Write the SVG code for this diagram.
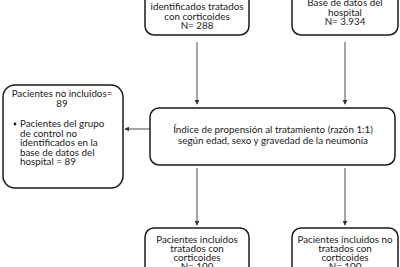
<svg xmlns="http://www.w3.org/2000/svg" width="400" height="267" viewBox="0 0 400 267">
<style>
.box{fill:#fff;stroke:#1a1a1a;stroke-width:1.5}
.t{font-family:Lato,"Open Sans",sans-serif;font-size:9.8px;fill:#1a1a1a;text-anchor:middle}
.l{text-anchor:start}
.c{stroke:#4d4d4d;stroke-width:1;fill:none;marker-end:url(#ah)}
</style>
<defs>
<marker id="ah" viewBox="0 0 8 8" refX="7" refY="4" markerWidth="5" markerHeight="5" orient="auto" markerUnits="userSpaceOnUse">
<path d="M0,0 L8,4 L0,8 Z" fill="#333"/>
</marker>
</defs>
<rect width="400" height="267" fill="#fff"/>
<g id="connectors">
<line class="c" x1="197" y1="42" x2="197" y2="104"/>
<line class="c" x1="345" y1="42" x2="345" y2="104"/>
<line class="c" x1="150" y1="129" x2="125" y2="129"/>
<line class="c" x1="197" y1="168" x2="197" y2="225"/>
<line class="c" x1="345" y1="168" x2="345" y2="225"/>
</g>
<g id="n-top-left">
<rect class="box" x="145" y="-15" width="104" height="50" rx="9"/>
<text class="t" x="197" y="9.5">identificados tratados</text>
<text class="t" x="197" y="19.5">con corticoides</text>
<text class="t" x="197" y="29">N= 288</text>
</g>
<g id="n-top-right">
<rect class="box" x="292" y="-15" width="106" height="50" rx="9"/>
<text class="t" x="345" y="5.5">Base de datos del</text>
<text class="t" x="345" y="15.5">hospital</text>
<text class="t" x="345" y="25">N= 3.934</text>
</g>
<g id="n-excluded">
<rect class="box" x="3" y="85" width="120" height="103" rx="12"/>
<text class="t" x="62" y="97">Pacientes no incluidos=</text>
<text class="t" x="62" y="107">89</text>
<circle cx="15" cy="124" r="1.4" fill="#1a1a1a"/>
<text class="t l" x="20" y="127">Pacientes del grupo</text>
<text class="t l" x="20" y="136.5">de control no</text>
<text class="t l" x="20" y="146">identificados en la</text>
<text class="t l" x="20" y="155.5">base de datos del</text>
<text class="t l" x="20" y="165">hospital = 89</text>
</g>
<g id="n-propensity">
<rect class="box" x="150" y="108" width="245" height="57" rx="9"/>
<text class="t" x="273" y="133">Índice de propensión al tratamiento (razón 1:1)</text>
<text class="t" x="273" y="144">según edad, sexo y gravedad de la neumonía</text>
</g>
<g id="n-bottom-left">
<rect class="box" x="145" y="228" width="104" height="50" rx="9"/>
<text class="t" x="197" y="243">Pacientes incluidos</text>
<text class="t" x="197" y="252">tratados con</text>
<text class="t" x="197" y="261">corticoides</text>
<text class="t" x="197" y="270">N= 100</text>
</g>
<g id="n-bottom-right">
<rect class="box" x="292" y="228" width="106" height="50" rx="9"/>
<text class="t" x="345" y="243">Pacientes incluidos no</text>
<text class="t" x="345" y="252">tratados con</text>
<text class="t" x="345" y="261">corticoides</text>
<text class="t" x="345" y="270">N= 100</text>
</g>
</svg>
